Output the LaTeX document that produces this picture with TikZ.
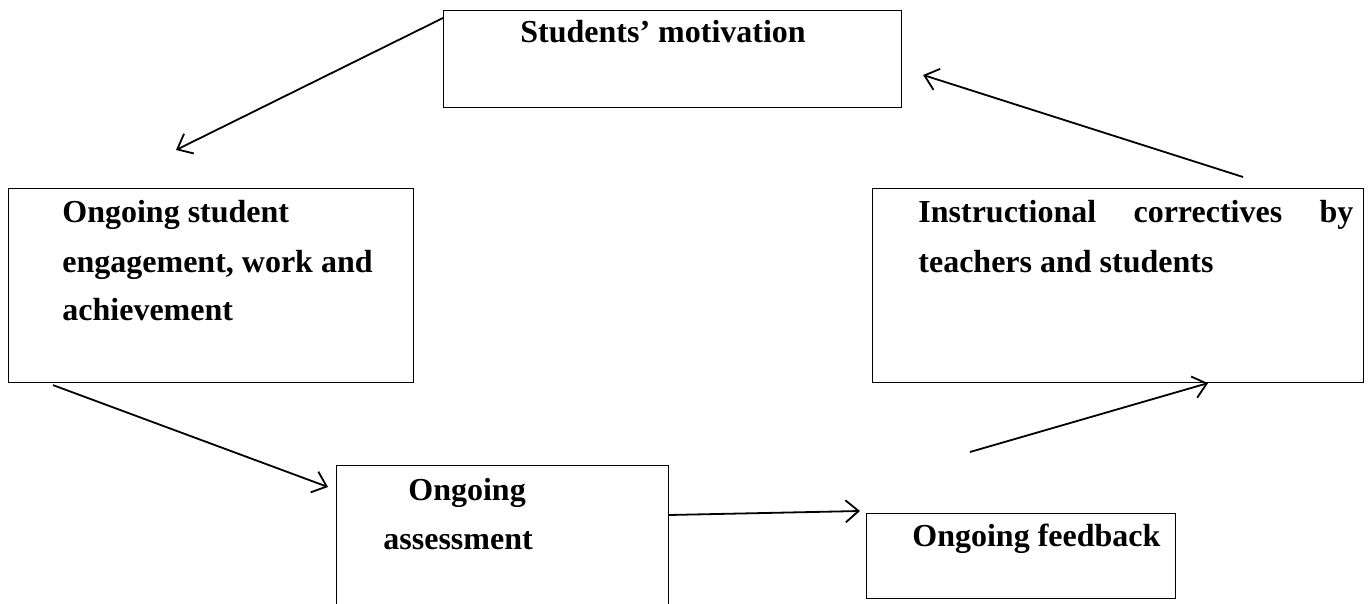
\documentclass[tikz,border=0pt]{standalone}
\usepackage{fontspec}
\setmainfont{Liberation Serif}
\usetikzlibrary{arrows.meta,calc}
\begin{document}
\begin{tikzpicture}[x=0.5pt,y=-0.5pt,
  box/.style={draw,line width=0.55pt,inner sep=0pt,anchor=north west},
  lbl/.style={anchor=base west,inner sep=0pt,font=\fontsize{16}{24}\selectfont\bfseries},
  arr/.style={line width=0.9pt,-{Straight Barb[length=6.5pt,width=11pt,line width=0.9pt]}}]
\useasboundingbox (0,0) rectangle (1370,604);
\clip (0,0) rectangle (1370,604);
% boxes
\node[box,minimum width=229pt,minimum height=48.5pt] (mot) at (443,10) {};
\node[box,minimum width=202.5pt,minimum height=97pt] (eng) at (8,188) {};
\node[box,minimum width=245.5pt,minimum height=97pt] (cor) at (872,188) {};
\node[box,minimum width=166pt,minimum height=90pt] (ass) at (336,465) {};
\node[box,minimum width=154.5pt,minimum height=42.5pt] (fb) at (866,513) {};
% texts
\node[lbl] (tmot) at (520,43) {Students’ motivation};
\node[lbl] (teng1) at (62,223) {Ongoing student};
\node[lbl] (teng2) at (62,272) {engagement, work and};
\node[lbl] (teng3) at (62,321) {achievement};
\node[lbl] (tcor1) at (918,223) {\makebox[217.5pt][s]{Instructional correctives by}};
\node[lbl] (tcor2) at (918,272) {teachers and students};
\node[lbl] (tass1) at (408,500) {Ongoing};
\node[lbl] (tass2) at (383,549) {assessment};
\node[lbl] (tfb) at (912,546) {Ongoing feedback};
% connectors
\draw[arr] ($(mot.north west)+(0,8)$) -- ($(eng.north west)+(168,-38)$);
\draw[arr] ($(cor.north west)+(371,-11)$) -- ($(mot.north east)+(21,65)$);
\draw[arr] ($(eng.south west)+(45,2)$) -- ($(ass.north west)+(-8,22)$);
\draw[arr] ($(ass.north east)+(0,50)$) -- ($(fb.north west)+(-6,-2)$);
\draw[arr] ($(fb.north west)+(104,-61)$) -- ($(cor.south west)+(336,0)$);
\end{tikzpicture}
\end{document}
